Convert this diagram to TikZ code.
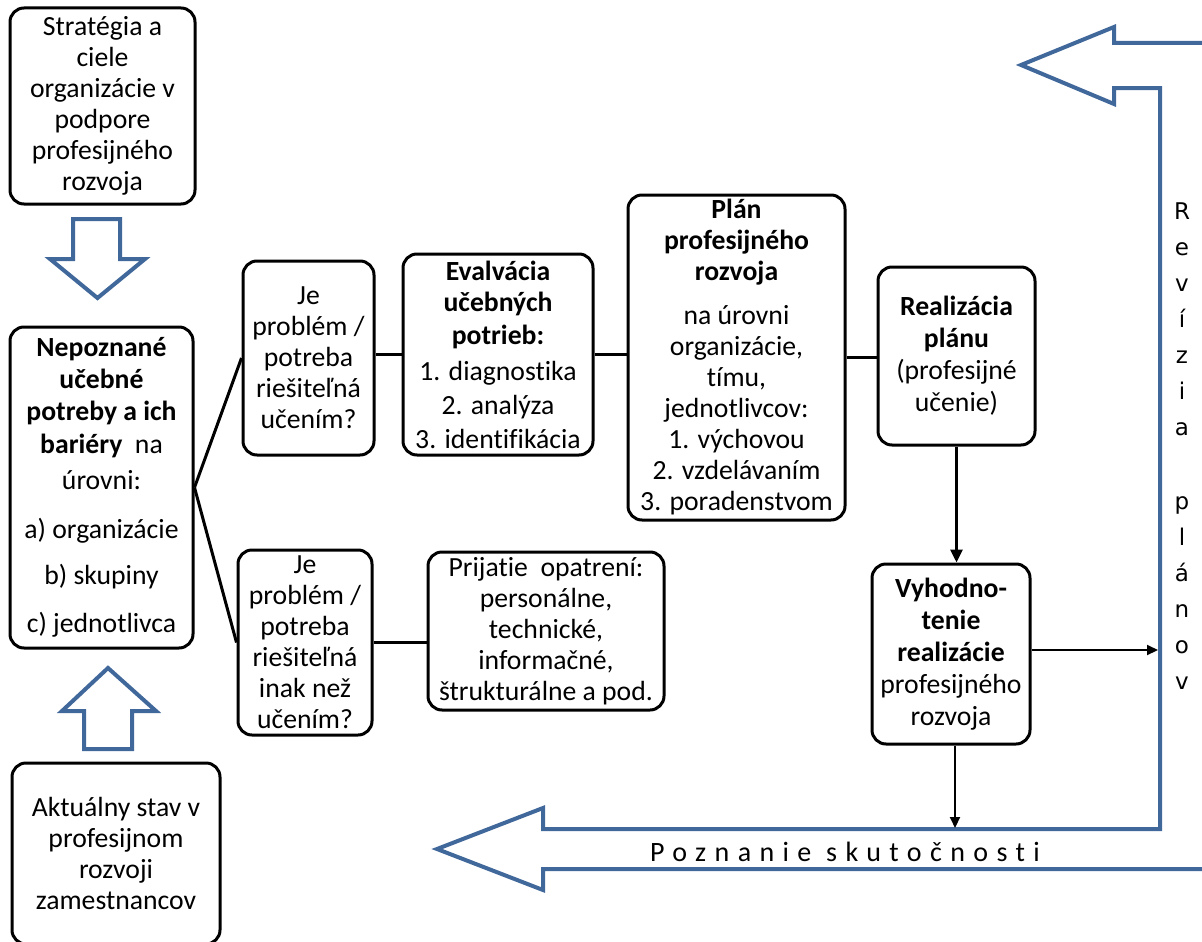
\documentclass[tikz,border=0pt]{standalone}
\usepackage{fontspec}
\setmainfont{Carlito}[Ligatures={NoCommon}]
\newfontfamily\stackfont{DejaVu Sans}
\newfontfamily\spacedfont{Carlito}[LetterSpace=30,Ligatures={NoCommon}]
\usetikzlibrary{arrows.meta}
\definecolor{arrowblue}{HTML}{41689B}
\tikzset{
  box/.style={draw=black, line width=3pt, rounded corners=14pt, fill=white,
    inner sep=0pt, align=center, font=\fontsize{27.7}{31}\selectfont},
  link/.style={draw=black, line width=3pt},
  flow/.style={draw=black, line width=3pt, -{Triangle[length=13pt,width=12pt]}},
  thinflow/.style={draw=black, line width=2pt, -{Triangle[length=11pt,width=10pt]}},
  block/.style={draw=arrowblue, line width=4pt, line join=miter},
}
\begin{document}
\begin{tikzpicture}[x=1pt,y=-1pt]
\useasboundingbox (0,0) rectangle (1202,942);

% hollow block arrows on the left
\draw[block] (73,219) -- (120,219) -- (120,259) -- (145,259) -- (97.5,298)
  -- (50,259) -- (73,259) -- cycle;
\draw[block] (84,749) -- (132,749) -- (132,711) -- (156,711) -- (108,668)
  -- (62,711) -- (84,711) -- cycle;

% feedback band: revision on the right, reality check along the bottom
\draw[block] (1215,43) -- (1114,43) -- (1114,27) -- (1021,65) -- (1114,104)
  -- (1114,88) -- (1160,88) -- (1160,829) -- (543,829) -- (543,808)
  -- (437,849) -- (543,890) -- (543,869) -- (1215,869);
\coordinate (revin) at (1158,650);
\coordinate (feedin) at (955,828);

\node[font=\spacedfont\fontsize{28}{32}\selectfont, inner sep=0pt] (reality)
  at (845,852) {Poznanie skutočnosti};
\node[font=\stackfont\fontsize{23}{36}\selectfont, align=center, inner sep=0pt]
  (revision) at (1182,446)
  {R\\e\\v\\í\\z\\i\\a\\[38pt]p\\l\\á\\n\\o\\v};

% boxes
\node[box, minimum width=185pt, minimum height=196pt] (strat) at (102.5,106)
  {Stratégia a\\ciele\\organizácie v\\podpore\\profesijného\\rozvoja};
\node[box, minimum width=183pt, minimum height=321pt] (nepo) at (101.5,487.5)
  {\textbf{Nepoznané}\\[1pt]\textbf{učebné}\\[1pt]\textbf{potreby a ich}\\[2pt]%
   \textbf{bariéry}\ \ na\\[5pt]úrovni:\\[18pt]a) organizácie\\[15pt]%
   b) skupiny\\[17pt]c) jednotlivca};
\node[box, minimum width=208pt, minimum height=181pt] (akt) at (116,853.5)
  {Aktuálny stav v\\profesijnom\\rozvoji\\zamestnancov};
\node[box, minimum width=131pt, minimum height=194pt] (je1) at (308.5,358)
  {Je\\problém /\\potreba\\riešiteľná\\učením?};
\node[box, minimum width=190pt, minimum height=201pt] (eval) at (498,354.5)
  {\textbf{Evalvácia}\\\textbf{učebných}\\[2pt]\textbf{potrieb:}\\[5pt]%
   1. diagnostika\\[3pt]2. analýza\\[3pt]3. identifikácia};
\node[box, minimum width=217pt, minimum height=325pt] (plan) at (736.5,357.5)
  {\textbf{Plán}\\\textbf{profesijného}\\\textbf{rozvoja}\\[13pt]%
   na úrovni\\organizácie,\\tímu,\\jednotlivcov:\\1. výchovou\\%
   2. vzdelávaním\\3. poradenstvom};
\node[box, minimum width=157pt, minimum height=178pt] (real) at (956.5,356)
  {\textbf{Realizácia}\\[1pt]\textbf{plánu}\\[1pt](profesijné\\[1pt]učenie)};
\node[box, minimum width=158pt, minimum height=180pt] (vyh) at (951,654)
  {\textbf{Vyhodno-}\\[1pt]\textbf{tenie}\\[1pt]\textbf{realizácie}\\[1pt]%
   profesijného\\[1pt]rozvoja};
\node[box, minimum width=134pt, minimum height=185pt] (je2) at (305,642.5)
  {Je\\problém /\\potreba\\riešiteľná\\inak než\\učením?};
\node[box, minimum width=236pt, minimum height=158pt] (prij) at (546,631)
  {Prijatie\ \ opatrení:\\personálne,\\technické,\\informačné,\\%
   štrukturálne a pod.};

% connectors
\draw[link] (nepo.east) -- (je1.west);
\draw[link] (nepo.east) -- (je2.west);
\draw[link] (je1.east |- eval.west) -- (eval.west);
\draw[link] (eval.east) -- (eval.east -| plan.west);
\draw[link] (plan.east) -- (plan.east -| real.west);
\draw[link] (je2.east) -- (je2.east -| prij.west);
\draw[flow] (real.south) -- (real.south |- vyh.north);
\draw[thinflow] (vyh.east |- revin) -- (revin);
\draw[thinflow] (vyh.south -| feedin) -- (feedin);
\end{tikzpicture}
\end{document}
